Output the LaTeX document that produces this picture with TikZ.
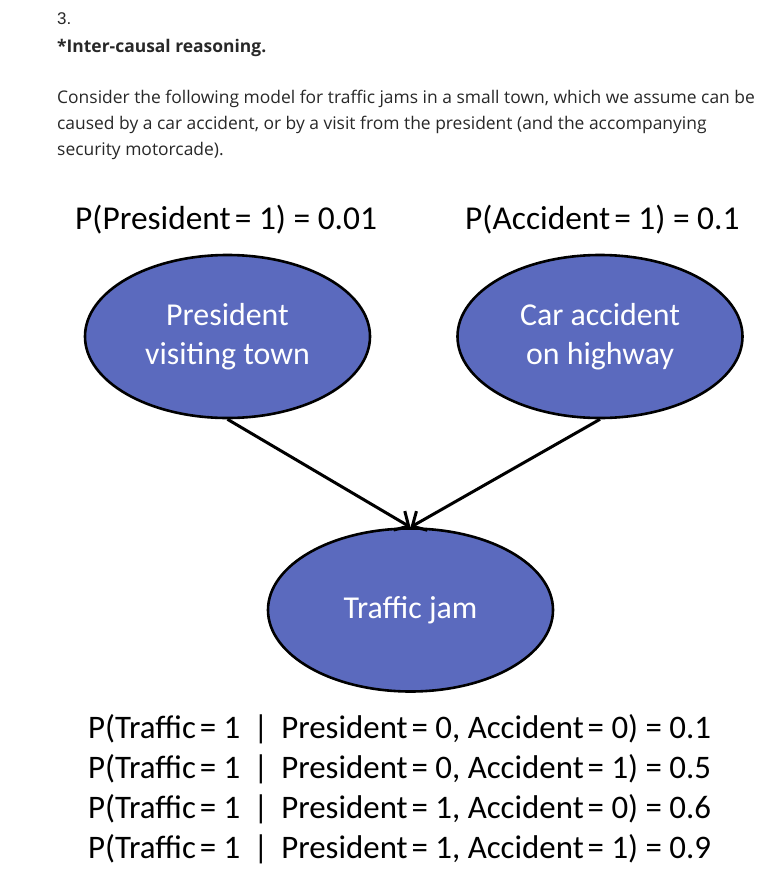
\documentclass[tikz,border=0pt]{standalone}
\usepackage{fontspec}
\setmainfont{Open Sans}
\newfontfamily\calfont{Carlito}
\newfontfamily\arialfont{Liberation Sans}
\usetikzlibrary{shapes.geometric,arrows.meta}
\definecolor{nodeblue}{RGB}{91,106,190}
\definecolor{bodytext}{RGB}{40,40,40}
\newcommand{\eqk}{{\kern0.12em}=}
\tikzset{
  para/.style={anchor=base west, inner sep=0pt, text=bodytext, font=\fontsize{17.5}{26}\selectfont},
  lbl/.style={anchor=base west, inner sep=0pt, text=black, font=\calfont\fontsize{33}{40}\selectfont},
  bnode/.style={ellipse, draw=black, line width=2.6bp, fill=nodeblue, minimum width=285bp, minimum height=163bp,
    inner sep=0pt, align=center, text=white, font=\calfont\fontsize{32}{39}\selectfont},
  arr/.style={line width=3bp, -{Straight Barb[length=11bp,width=22bp,line width=3bp]}}
}
\begin{document}
\begin{tikzpicture}[x=1bp,y=-1bp]
\useasboundingbox[fill=white] (0,0) rectangle (772,877);
\node[para, font=\arialfont\fontsize{17}{20}\selectfont] (num) at (57,24) {3.};
\node[para, font=\bfseries\fontsize{17.5}{26}\selectfont] (title) at (57,52) {*Inter-causal reasoning.};
\node[para] (p1) at (57,103) {Consider the following model for traffic jams in a small town, which we assume can be};
\node[para] (p2) at (57,129) {caused by a car accident, or by a visit from the president (and the accompanying};
\node[para] (p3) at (57,155) {security motorcade).};

\node[lbl, font=\calfont\fontsize{33.5}{40}\selectfont] (pp) at (75,229) {P(President\eqk{} 1) = 0.01};
\node[lbl, font=\calfont\fontsize{33.5}{40}\selectfont] (pa) at (465,229) {P(Accident\eqk{} 1) = 0.1};

\node[bnode] (pres) at (227.5,336.5) {\rule{0pt}{0pt}\raisebox{-3bp}{President}\\\raisebox{-3bp}{visiting town}};
\node[bnode] (acc) at (600,336.5) {\raisebox{-3bp}{Car accident}\\\raisebox{-3bp}{on highway}};
\node[bnode] (traf) at (410.5,610) {Traffic jam};

\draw[arr] (pres.south) -- (traf.north);
\draw[arr] (acc.south) -- (traf.north);

\node[lbl] (c1) at (88,738) {P(Traffic\eqk{} 1 \,|\, President\eqk{} 0, Accident\eqk{} 0) = 0.1};
\node[lbl] (c2) at (88,778) {P(Traffic\eqk{} 1 \,|\, President\eqk{} 0, Accident\eqk{} 1) = 0.5};
\node[lbl] (c3) at (88,818) {P(Traffic\eqk{} 1 \,|\, President\eqk{} 1, Accident\eqk{} 0) = 0.6};
\node[lbl] (c4) at (88,858) {P(Traffic\eqk{} 1 \,|\, President\eqk{} 1, Accident\eqk{} 1) = 0.9};
\end{tikzpicture}
\end{document}
